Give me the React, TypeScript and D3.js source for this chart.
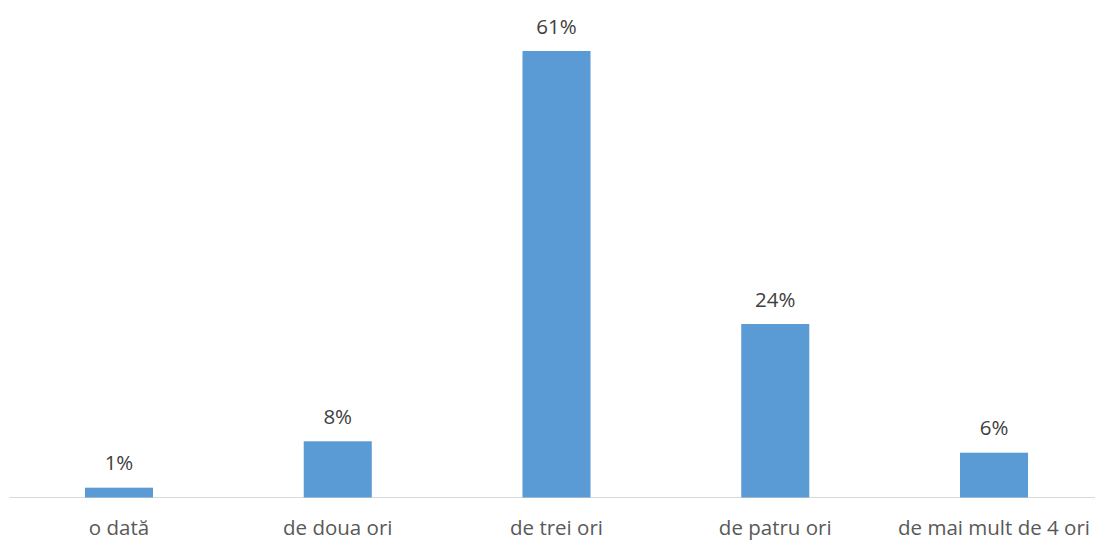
import React from "react";
import * as d3 from "d3";

const categories = ["o dată", "de doua ori", "de trei ori", "de patru ori", "de mai mult de 4 ori"];
const values = [1.34, 7.68, 61, 23.7, 6.12];
const labels = ["1%", "8%", "61%", "24%", "6%"];

const W = 1095;
const H = 540;

export default function App() {
  const x = d3
    .scaleBand<string>()
    .domain(categories)
    .range([9.6, 1103.4])
    .paddingInner(0.689)
    .paddingOuter(0.3445);
  const y = d3.scaleLinear().domain([0, 61]).range([497.5, 51]);
  const font = "'Open Sans', 'Noto Sans', sans-serif";
  return (
    <svg
      width={W}
      height={H}
      style={{ position: "absolute", left: 0, top: 0, background: "#fff" }}
    >
      <line x1={9.6} x2={W} y1={497.5} y2={497.5} stroke="#d9d9d9" strokeWidth={1} />
      {categories.map((c, i) => (
        <g key={c}>
          <rect
            x={x(c)}
            y={y(values[i])}
            width={x.bandwidth()}
            height={y(0) - y(values[i])}
            fill="#5b9bd5"
          />
          <text
            x={(x(c) as number) + x.bandwidth() / 2}
            y={y(values[i]) - 17.5}
            textAnchor="middle"
            fontFamily={font}
            fontSize={20.5}
            fill="#404040"
          >
            {labels[i]}
          </text>
          <text
            x={(x(c) as number) + x.bandwidth() / 2}
            y={535}
            textAnchor="middle"
            fontFamily={font}
            fontSize={20.5}
            fill="#595959"
          >
            {c}
          </text>
        </g>
      ))}
    </svg>
  );
}
